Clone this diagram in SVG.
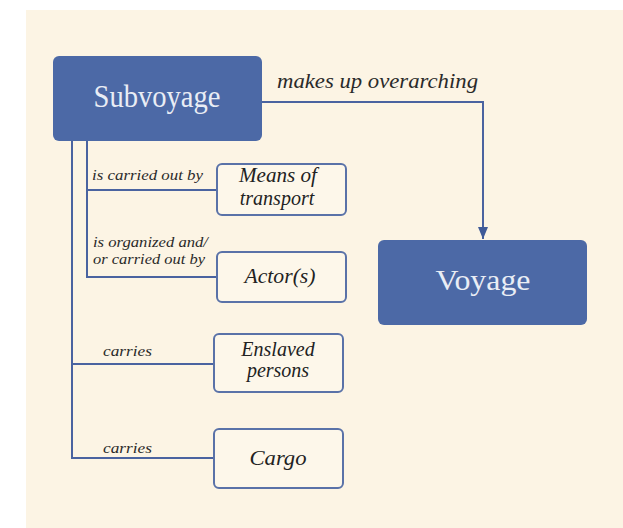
<svg xmlns="http://www.w3.org/2000/svg" width="623" height="528" viewBox="0 0 623 528">
<defs>
<style>
.main{fill:#4c69a6;}
.mainText{font-family:"Liberation Serif",serif;fill:#e9edf5;text-anchor:middle;}
.node{fill:#fdf7ea;stroke:#5a72a8;stroke-width:2;}
.nodeText{font-family:"Liberation Serif",serif;font-style:italic;font-size:20px;fill:#222;text-anchor:middle;}
.lbl{font-family:"Liberation Serif",serif;font-style:italic;fill:#2a2a2a;}
.conn{fill:none;stroke:#4a63a0;stroke-width:2;}
</style>
<marker id="arr" markerWidth="12" markerHeight="10" refX="12" refY="5" orient="auto" markerUnits="userSpaceOnUse" viewBox="0 0 12 10">
<path d="M0,0 L12,5 L0,10 Z" fill="#3f5a98"/>
</marker>
</defs>
<rect x="0" y="0" width="623" height="528" fill="#ffffff"/>
<rect x="26" y="10" width="597" height="518" fill="#fcf4e4"/>
<g id="connectors">
<path class="conn" d="M262,102 H483 V239" marker-end="url(#arr)"/>
<path class="conn" d="M72,141 V458 H214"/>
<path class="conn" d="M72,364 H214"/>
<path class="conn" d="M87,141 V277 H217"/>
<path class="conn" d="M87,190 H217"/>
<text class="lbl" x="277" y="88" font-size="20" textLength="201" lengthAdjust="spacingAndGlyphs">makes up overarching</text>
<text class="lbl" x="92" y="180" font-size="15.5" textLength="111" lengthAdjust="spacingAndGlyphs">is carried out by</text>
<text class="lbl" x="93" y="246.5" font-size="15.5" textLength="115" lengthAdjust="spacingAndGlyphs">is organized and/</text>
<text class="lbl" x="93" y="264" font-size="15.5" textLength="112" lengthAdjust="spacingAndGlyphs">or carried out by</text>
<text class="lbl" x="103" y="356" font-size="15.5" textLength="49" lengthAdjust="spacingAndGlyphs">carries</text>
<text class="lbl" x="103" y="453" font-size="15.5" textLength="49" lengthAdjust="spacingAndGlyphs">carries</text>
</g>
<g id="subvoyage">
<rect class="main" x="53" y="56" width="209" height="85" rx="6"/>
<text class="mainText" x="157" y="107" font-size="31" textLength="127" lengthAdjust="spacingAndGlyphs">Subvoyage</text>
</g>
<g id="voyage">
<rect class="main" x="378" y="240" width="209" height="85" rx="6"/>
<text class="mainText" x="483" y="290" font-size="29" textLength="95" lengthAdjust="spacingAndGlyphs">Voyage</text>
</g>
<g id="means">
<rect class="node" x="217" y="164" width="129" height="51" rx="5"/>
<text class="nodeText" x="278" y="182" textLength="78" lengthAdjust="spacingAndGlyphs">Means of</text>
<text class="nodeText" x="277" y="205">transport</text>
</g>
<g id="actors">
<rect class="node" x="217" y="252" width="129" height="50" rx="5"/>
<text class="nodeText" x="280" y="283" textLength="71" lengthAdjust="spacingAndGlyphs">Actor(s)</text>
</g>
<g id="enslaved">
<rect class="node" x="214" y="334" width="129" height="58" rx="5"/>
<text class="nodeText" x="278" y="356">Enslaved</text>
<text class="nodeText" x="278" y="377">persons</text>
</g>
<g id="cargo">
<rect class="node" x="214" y="429" width="129" height="59" rx="5"/>
<text class="nodeText" x="278" y="465" textLength="57" lengthAdjust="spacingAndGlyphs">Cargo</text>
</g>
</svg>
